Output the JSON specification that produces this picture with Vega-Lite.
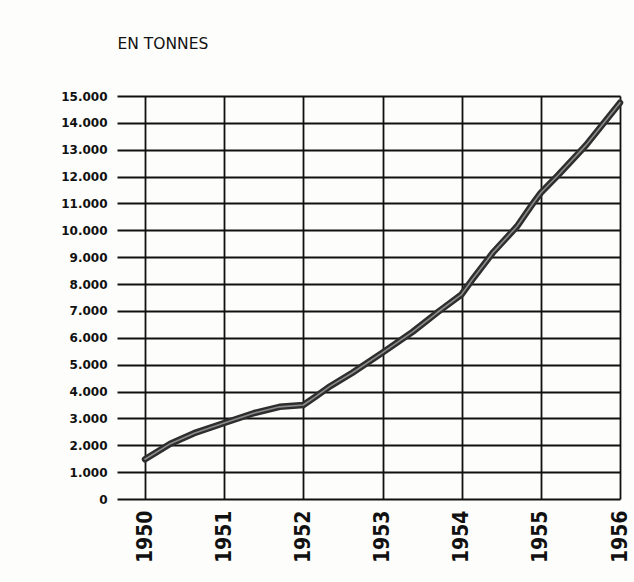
{
  "$schema": "https://vega.github.io/schema/vega-lite/v6.json",
  "width": 503,
  "height": 403,
  "autosize": {"type": "none"},
  "padding": {"left": 117, "top": 96, "right": 14, "bottom": 83},
  "background": "#fdfdfb",
  "config": {"view": {"stroke": null}},
  "data": {
    "values": [
      {"annee": 1950.0, "tonnes": 1480},
      {"annee": 1950.32, "tonnes": 2060},
      {"annee": 1950.62, "tonnes": 2450},
      {"annee": 1951.0, "tonnes": 2830},
      {"annee": 1951.38, "tonnes": 3200},
      {"annee": 1951.7, "tonnes": 3430},
      {"annee": 1952.0, "tonnes": 3500},
      {"annee": 1952.15, "tonnes": 3800},
      {"annee": 1952.34, "tonnes": 4200},
      {"annee": 1952.62, "tonnes": 4700},
      {"annee": 1953.0, "tonnes": 5450},
      {"annee": 1953.38, "tonnes": 6220},
      {"annee": 1953.7, "tonnes": 6960},
      {"annee": 1954.0, "tonnes": 7620},
      {"annee": 1954.13, "tonnes": 8150},
      {"annee": 1954.4, "tonnes": 9190},
      {"annee": 1954.7, "tonnes": 10150},
      {"annee": 1954.9, "tonnes": 11000},
      {"annee": 1955.0, "tonnes": 11400},
      {"annee": 1955.22, "tonnes": 12060},
      {"annee": 1955.57, "tonnes": 13170},
      {"annee": 1956.0, "tonnes": 14750}
    ]
  },
  "encoding": {
    "x": {
      "field": "annee",
      "type": "quantitative",
      "scale": {"domain": [1949.646, 1956], "nice": false, "zero": false},
      "axis": {
        "values": [1950, 1951, 1952, 1953, 1954, 1955, 1956],
        "format": "d",
        "title": null,
        "domain": false,
        "ticks": false,
        "grid": true,
        "gridColor": "#111111",
        "gridWidth": 1.8,
        "gridOpacity": 1,
        "labelAngle": -90,
        "labelAlign": "right",
        "labelBaseline": "middle",
        "labelPadding": 11,
        "labelFont": "DejaVu Sans Condensed, DejaVu Sans, sans-serif",
        "labelFontWeight": "bold",
        "labelFontSize": 21,
        "labelColor": "#111111",
        "labelOverlap": false,
        "labelFlush": false
      }
    },
    "y": {
      "field": "tonnes",
      "type": "quantitative",
      "scale": {"domain": [0, 15000], "nice": false},
      "axis": {
        "values": [0, 1000, 2000, 3000, 4000, 5000, 6000, 7000, 8000, 9000, 10000, 11000, 12000, 13000, 14000, 15000],
        "labelExpr": "replace(format(datum.value, ','), ',', '.')",
        "title": "EN TONNES",
        "titleAngle": 0,
        "titleAlign": "left",
        "titleBaseline": "middle",
        "titleX": 0,
        "titleY": -53,
        "titleFont": "DejaVu Sans",
        "titleFontSize": 15.5,
        "titleFontWeight": "normal",
        "titleColor": "#111111",
        "domain": false,
        "ticks": false,
        "grid": true,
        "gridColor": "#111111",
        "gridWidth": 1.8,
        "gridOpacity": 1,
        "labelPadding": 10,
        "labelFont": "DejaVu Sans",
        "labelFontWeight": "bold",
        "labelFontSize": 12,
        "labelColor": "#111111",
        "labelOverlap": false,
        "labelFlush": false
      }
    }
  },
  "layer": [
    {"mark": {"type": "line", "stroke": "#2e2e2e", "strokeWidth": 6.5, "strokeJoin": "round", "strokeCap": "round"}},
    {"mark": {"type": "line", "stroke": "#8c8c8c", "strokeWidth": 1.6, "strokeJoin": "round", "strokeCap": "round"}}
  ]
}
